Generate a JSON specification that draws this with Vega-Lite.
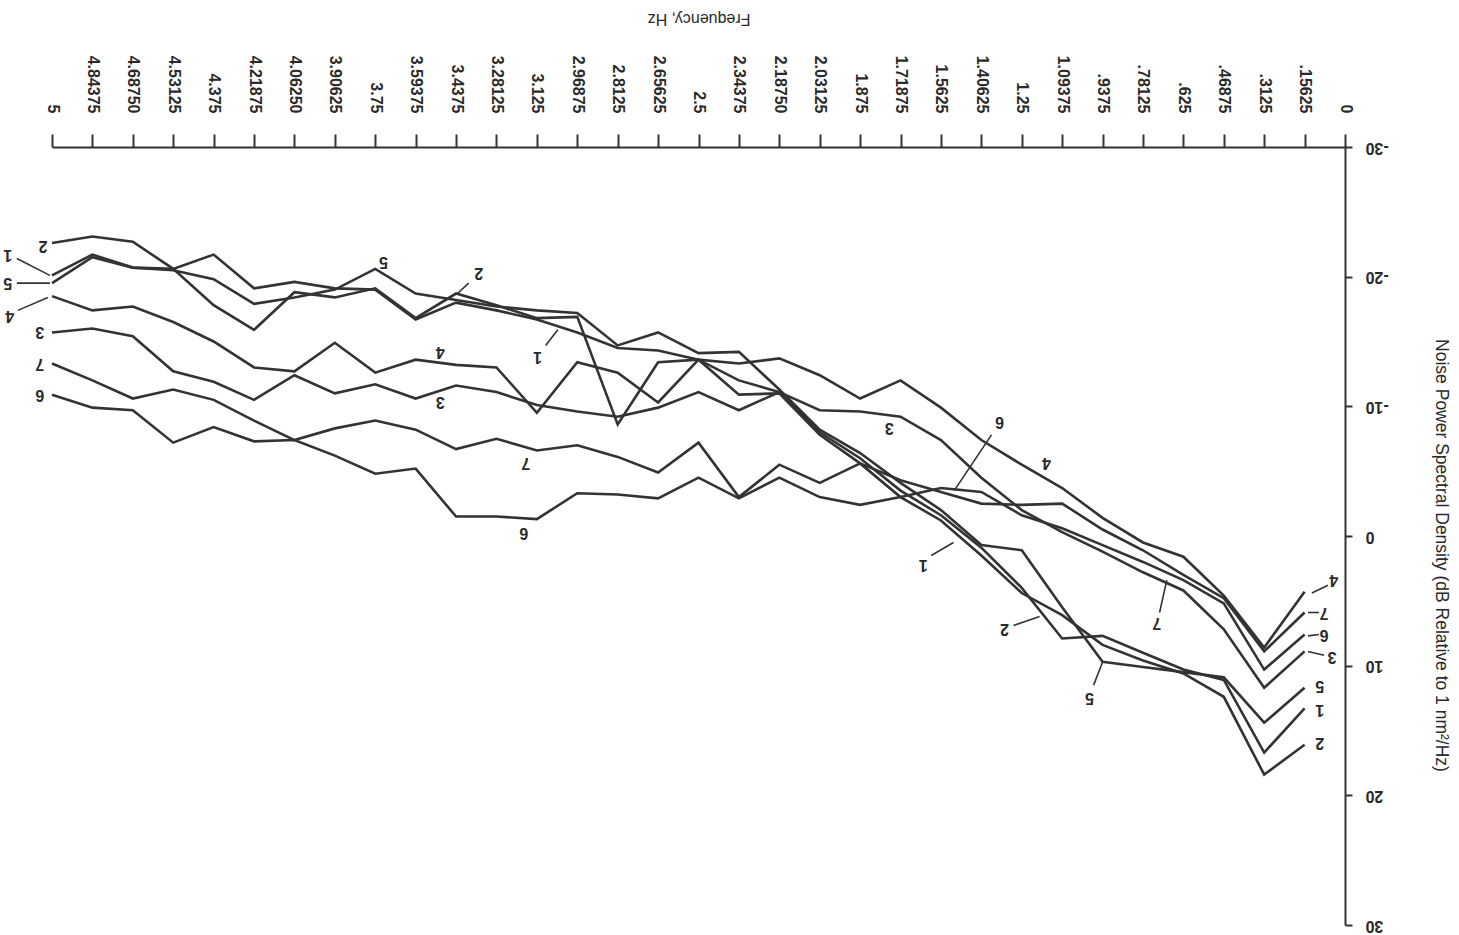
{
  "$schema": "https://vega.github.io/schema/vega-lite/v6.json",
  "width": 1293,
  "height": 778,
  "autosize": {"type": "none"},
  "padding": {"left": 52, "top": 147, "right": 114, "bottom": 10},
  "background": "white",
  "config": {
    "view": {"stroke": null},
    "axis": {
      "labelFont": "Liberation Sans",
      "labelFontWeight": "bold",
      "labelFontSize": 16,
      "labelColor": "#2a2a2a",
      "titleFont": "Liberation Sans",
      "titleColor": "#2a2a2a",
      "domainColor": "#333333",
      "domainWidth": 2,
      "tickColor": "#333333",
      "tickWidth": 2,
      "grid": false,
      "labelFlush": false,
      "labelOverlap": false
    }
  },
  "datasets": {
    "psd": [
      {"f": 0.15625, "L1": 13.3, "L2": 16.1, "L3": 8.9, "L4": 4.3, "L5": 11.7, "L6": 7.6, "L7": 5.9},
      {"f": 0.3125, "L1": 16.7, "L2": 18.4, "L3": 11.7, "L4": 8.6, "L5": 14.4, "L6": 10.3, "L7": 8.9},
      {"f": 0.46875, "L1": 11.1, "L2": 12.4, "L3": 7.2, "L4": 4.6, "L5": 10.9, "L6": 5.2, "L7": 4.8},
      {"f": 0.625, "L1": 10.3, "L2": 10.6, "L3": 4.2, "L4": 1.6, "L5": 10.5, "L6": 3.4, "L7": 3.0},
      {"f": 0.78125, "L1": 9.0, "L2": 9.6, "L3": 2.8, "L4": 0.5, "L5": 10.1, "L6": 2.0, "L7": 1.1},
      {"f": 0.9375, "L1": 7.7, "L2": 8.4, "L3": 1.2, "L4": -1.4, "L5": 9.7, "L6": 0.7, "L7": -0.5},
      {"f": 1.09375, "L1": 7.9, "L2": 6.1, "L3": -0.3, "L4": -3.7, "L5": 5.5, "L6": -0.6, "L7": -2.5},
      {"f": 1.25, "L1": 4.0, "L2": 4.4, "L3": -2.0, "L4": -5.5, "L5": 1.1, "L6": -1.6, "L7": -2.4},
      {"f": 1.40625, "L1": 0.9, "L2": 1.5, "L3": -4.5, "L4": -7.4, "L5": 0.7, "L6": -3.4, "L7": -2.5},
      {"f": 1.5625, "L1": -1.6, "L2": -1.2, "L3": -7.4, "L4": -9.9, "L5": -2.0, "L6": -3.7, "L7": -3.4},
      {"f": 1.71875, "L1": -3.5, "L2": -3.0, "L3": -9.2, "L4": -12.0, "L5": -4.1, "L6": -3.0, "L7": -4.3},
      {"f": 1.875, "L1": -6.0, "L2": -5.6, "L3": -9.6, "L4": -10.6, "L5": -6.4, "L6": -2.4, "L7": -5.6},
      {"f": 2.03125, "L1": -8.0, "L2": -7.8, "L3": -9.7, "L4": -12.4, "L5": -8.2, "L6": -3.0, "L7": -4.1},
      {"f": 2.1875, "L1": -11.1, "L2": -11.0, "L3": -11.1, "L4": -13.7, "L5": -11.3, "L6": -4.5, "L7": -5.5},
      {"f": 2.34375, "L1": -12.0, "L2": -10.9, "L3": -9.7, "L4": -13.3, "L5": -14.2, "L6": -2.9, "L7": -3.0},
      {"f": 2.5, "L1": -13.6, "L2": -13.6, "L3": -11.1, "L4": -13.6, "L5": -14.1, "L6": -4.5, "L7": -7.2},
      {"f": 2.65625, "L1": -14.3, "L2": -13.4, "L3": -9.9, "L4": -10.3, "L5": -15.7, "L6": -2.9, "L7": -4.9},
      {"f": 2.8125, "L1": -14.5, "L2": -8.6, "L3": -9.2, "L4": -12.6, "L5": -14.7, "L6": -3.2, "L7": -6.1},
      {"f": 2.96875, "L1": -15.7, "L2": -16.9, "L3": -9.6, "L4": -13.4, "L5": -17.2, "L6": -3.3, "L7": -7.0},
      {"f": 3.125, "L1": -16.7, "L2": -16.8, "L3": -10.1, "L4": -9.5, "L5": -17.4, "L6": -1.3, "L7": -6.6},
      {"f": 3.28125, "L1": -17.4, "L2": -17.8, "L3": -11.1, "L4": -13.0, "L5": -17.7, "L6": -1.5, "L7": -7.5},
      {"f": 3.4375, "L1": -18.0, "L2": -18.7, "L3": -11.6, "L4": -13.2, "L5": -18.2, "L6": -1.5, "L7": -6.7},
      {"f": 3.59375, "L1": -16.7, "L2": -16.8, "L3": -10.6, "L4": -13.6, "L5": -18.7, "L6": -5.2, "L7": -8.2},
      {"f": 3.75, "L1": -19.0, "L2": -19.1, "L3": -11.7, "L4": -12.6, "L5": -20.6, "L6": -4.8, "L7": -8.9},
      {"f": 3.90625, "L1": -19.1, "L2": -18.4, "L3": -11.0, "L4": -14.9, "L5": -19.0, "L6": -6.2, "L7": -8.3},
      {"f": 4.0625, "L1": -19.6, "L2": -18.8, "L3": -12.4, "L4": -12.7, "L5": -18.4, "L6": -7.4, "L7": -7.4},
      {"f": 4.21875, "L1": -19.1, "L2": -15.9, "L3": -10.5, "L4": -13.0, "L5": -17.9, "L6": -7.3, "L7": -8.9},
      {"f": 4.375, "L1": -21.7, "L2": -17.8, "L3": -11.9, "L4": -15.0, "L5": -19.8, "L6": -8.4, "L7": -10.5},
      {"f": 4.53125, "L1": -20.6, "L2": -20.6, "L3": -12.7, "L4": -16.5, "L5": -20.5, "L6": -7.2, "L7": -11.3},
      {"f": 4.6875, "L1": -20.7, "L2": -22.7, "L3": -15.4, "L4": -17.7, "L5": -20.7, "L6": -9.7, "L7": -10.6},
      {"f": 4.84375, "L1": -21.7, "L2": -23.1, "L3": -16.0, "L4": -17.4, "L5": -21.5, "L6": -9.9, "L7": -12.0},
      {"f": 5.0, "L1": -20.1, "L2": -22.6, "L3": -15.7, "L4": -18.5, "L5": -19.5, "L6": -10.9, "L7": -13.3}
    ],
    "labels": [
      {"t": "2", "f": 5.035, "v": -22.4},
      {"t": "1", "f": 5.171, "v": -21.7},
      {"t": "5", "f": 5.171, "v": -19.5},
      {"t": "4", "f": 5.163, "v": -17.0},
      {"t": "3", "f": 5.047, "v": -15.7},
      {"t": "7", "f": 5.047, "v": -13.3},
      {"t": "6", "f": 5.047, "v": -10.9},
      {"t": "5", "f": 3.718, "v": -21.1},
      {"t": "2", "f": 3.35, "v": -20.3},
      {"t": "1", "f": 3.122, "v": -13.8},
      {"t": "4", "f": 3.498, "v": -14.2},
      {"t": "3", "f": 3.498, "v": -10.3},
      {"t": "7", "f": 3.168, "v": -5.6},
      {"t": "6", "f": 3.176, "v": -0.2},
      {"t": "3", "f": 1.762, "v": -8.3},
      {"t": "6", "f": 1.336, "v": -8.8},
      {"t": "4", "f": 1.154, "v": -5.6},
      {"t": "1", "f": 1.631, "v": 2.2},
      {"t": "2", "f": 1.317, "v": 7.2},
      {"t": "7", "f": 0.728, "v": 6.7},
      {"t": "5", "f": 0.988, "v": 12.5},
      {"t": "4", "f": 0.043, "v": 3.4},
      {"t": "7", "f": 0.081, "v": 5.9},
      {"t": "6", "f": 0.081, "v": 7.6},
      {"t": "3", "f": 0.05, "v": 9.3},
      {"t": "5", "f": 0.097, "v": 11.6},
      {"t": "1", "f": 0.097, "v": 13.4},
      {"t": "2", "f": 0.097, "v": 16.0}
    ],
    "arrows": [
      {"f": 5.136, "v": -21.4, "f2": 5.008, "v2": -20.1},
      {"f": 5.136, "v": -19.5, "f2": 5.008, "v2": -19.5},
      {"f": 5.132, "v": -17.4, "f2": 5.016, "v2": -18.4},
      {"f": 3.389, "v": -19.5, "f2": 3.432, "v2": -18.7},
      {"f": 3.091, "v": -14.7, "f2": 3.044, "v2": -15.9},
      {"f": 1.367, "v": -7.8, "f2": 1.511, "v2": -3.5},
      {"f": 1.6, "v": 1.5, "f2": 1.514, "v2": 0.5},
      {"f": 1.282, "v": 6.9, "f2": 1.181, "v2": 6.2},
      {"f": 0.717, "v": 5.9, "f2": 0.689, "v2": 3.4},
      {"f": 0.972, "v": 11.5, "f2": 0.937, "v2": 9.7},
      {"f": 0.066, "v": 3.8, "f2": 0.128, "v2": 4.4},
      {"f": 0.101, "v": 5.9, "f2": 0.143, "v2": 5.9},
      {"f": 0.101, "v": 7.6, "f2": 0.143, "v2": 7.7},
      {"f": 0.081, "v": 9.2, "f2": 0.143, "v2": 8.9}
    ]
  },
  "encoding": {
    "x": {
      "field": "f", "type": "quantitative",
      "scale": {"domain": [0, 5], "reverse": true, "nice": false, "zero": false},
      "axis": {
        "orient": "top",
        "values": [0, 0.15625, 0.3125, 0.46875, 0.625, 0.78125, 0.9375, 1.09375, 1.25, 1.40625, 1.5625, 1.71875, 1.875, 2.03125, 2.1875, 2.34375, 2.5, 2.65625, 2.8125, 2.96875, 3.125, 3.28125, 3.4375, 3.59375, 3.75, 3.90625, 4.0625, 4.21875, 4.375, 4.53125, 4.6875, 4.84375, 5],
        "labelExpr": "['0','.15625','.3125','.46875','.625','.78125','.9375','1.09375','1.25','1.40625','1.5625','1.71875','1.875','2.03125','2.18750','2.34375','2.5','2.65625','2.8125','2.96875','3.125','3.28125','3.4375','3.59375','3.75','3.90625','4.06250','4.21875','4.375','4.53125','4.68750','4.84375','5'][round(datum.value / 0.15625)]",
        "labelAngle": 90,
        "labelAlign": "right",
        "labelBaseline": "middle",
        "tickSize": 13,
        "labelPadding": 21,
        "title": "Frequency, Hz",
        "titleAngle": 180,
        "titleFontSize": 16,
        "titleFontWeight": "normal",
        "titleY": -129,
        "titleBaseline": "middle",
        "titleAlign": "center"
      }
    },
    "y": {
      "field": "v", "type": "quantitative",
      "scale": {"domain": [-30, 30], "reverse": true, "nice": false, "zero": false},
      "axis": {
        "orient": "right",
        "values": [-30, -20, -10, 0, 10, 20, 30],
        "labelExpr": "datum.value + ''",
        "labelAngle": 180,
        "labelAlign": "right",
        "labelBaseline": "middle",
        "tickSize": 7,
        "labelPadding": 13,
        "title": "Noise Power Spectral Density (dB Relative to 1 nm²/Hz)",
        "titleAngle": 90,
        "titleFontSize": 17.5,
        "titleFontWeight": "normal",
        "titleX": 95,
        "titleY": 408,
        "titleAlign": "center",
        "titleBaseline": "middle"
      }
    }
  },
  "layer": [
    {
      "data": {"name": "psd"},
      "transform": [{"fold": ["L1", "L2", "L3", "L4", "L5", "L6", "L7"], "as": ["series", "v"]}],
      "mark": {"type": "line", "color": "#333333", "strokeWidth": 2.6, "strokeJoin": "miter"},
      "encoding": {
        "detail": {"field": "series", "type": "nominal"}
      }
    },
    {
      "data": {"name": "arrows"},
      "mark": {"type": "rule", "color": "#333333", "strokeWidth": 1.6},
      "encoding": {
        "x2": {"field": "f2"},
        "y2": {"field": "v2"}
      }
    },
    {
      "data": {"name": "labels"},
      "mark": {"type": "text", "angle": 180, "font": "Liberation Sans", "fontWeight": "bold", "fontSize": 16, "color": "#2a2a2a", "align": "center", "baseline": "middle"},
      "encoding": {
        "text": {"field": "t", "type": "nominal"}
      }
    }
  ]
}
